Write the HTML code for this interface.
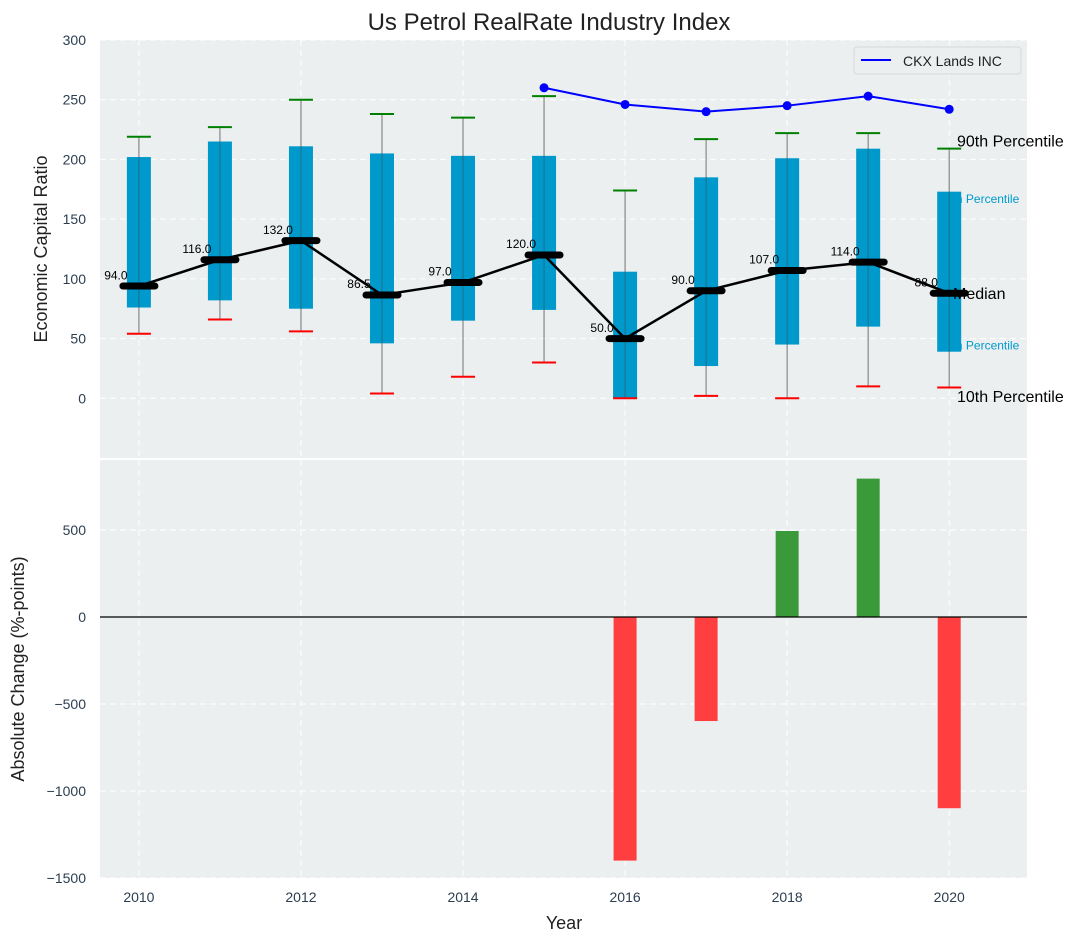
<!DOCTYPE html>
<html><head><meta charset="utf-8"><style>
body{margin:0;background:#fff;}
svg{display:block;font-family:"Liberation Sans","DejaVu Sans",sans-serif;}
</style></head><body>
<svg id="chart" width="1092" height="942" xmlns="http://www.w3.org/2000/svg"></svg>
<script>
const years=[2010,2011,2012,2013,2014,2015,2016,2017,2018,2019,2020];
const p90=[219,227,250,238,235,253,174,217,222,222,209];
const p75=[202,215,211,205,203,203,106,185,201,209,173];
const medians=[94,116,132,86.5,97,120,50,90,107,114,88];
const p25=[76,82,75,46,65,74,0,27,45,60,39];
const p10=[54,66,56,4,18,30,0,2,0,10,9];
const ckxYears=[2015,2016,2017,2018,2019,2020];
const ckxValues=[260,246,240,245,253,242];
const changeYears=[2016,2017,2018,2019,2020];
const changeValues=[-1400,-598,494,795,-1099];
const topTicks=[0,50,100,150,200,250,300];
const botTicks=[-1500,-1000,-500,0,500];
const xTicks=[2010,2012,2014,2016,2018,2020];

const NS="http://www.w3.org/2000/svg";
const svg=document.getElementById('chart');
function el(tag,attrs,parent,text){const e=document.createElementNS(NS,tag);for(const k in attrs)e.setAttribute(k,attrs[k]);if(text!==undefined)e.textContent=text;(parent||svg).appendChild(e);return e;}
const L=100,R=1027;
const x=v=>L+(v-2009.52)/(2020.96-2009.52)*(R-L);
const T1=40,B1=458,yt=v=>T1+(300-v)/(350)*(B1-T1);
const T2=460,B2=878,yb=v=>T2+(902-v)/(2402)*(B2-T2);
const tickColor="#2c3e50";

const title=el('text',{x:549,y:30,'text-anchor':'middle','font-size':24,fill:'#222'},svg,'Us Petrol RealRate Industry Index');



const g1=el('g',{});


const bg1=el('rect',{x:L,y:T1,width:R-L,height:B1-T1,fill:'#ebeff0'},g1);


topTicks.forEach(t=>{
  el('line',{x1:L,x2:R,y1:yt(t),y2:yt(t),stroke:'#fff','stroke-dasharray':'6,4','stroke-width':1},g1);
  const tl=el('text',{x:L-14,y:yt(t)+5,'text-anchor':'end','font-size':14,fill:tickColor},g1,String(t));
  
  
});
xTicks.forEach(t=>el('line',{x1:x(t),x2:x(t),y1:T1,y2:B1,stroke:'#fff','stroke-dasharray':'6,4'},g1));
const yl1=el('text',{x:47,y:(T1+B1)/2,'text-anchor':'middle','font-size':18,fill:'#222',transform:`rotate(-90 47 ${(T1+B1)/2})`},g1,'Economic Capital Ratio');



const last=years.length-1, xl=x(years[last]);
[['75th Percentile',p75[last]-6,'#0099cc',12,xl-10],['25th Percentile',p25[last]+5,'#0099cc',12,xl-10]].forEach(a=>{
  const t=el('text',{x:a[4],y:yt(a[1])+4,'font-size':a[3],fill:a[2]},g1,a[0]);
  
  
});

years.forEach((yr,i)=>{
  const cx=x(yr);
  const w=el('line',{x1:cx,x2:cx,y1:yt(p10[i]),y2:yt(p90[i]),stroke:'#888','stroke-width':1.2},g1);
  
  
  const b=el('rect',{x:cx-12,y:yt(p75[i]),width:24,height:yt(p25[i])-yt(p75[i]),fill:'#0099cc'},g1);
  
  
  el('line',{x1:cx,x2:cx,y1:yt(p75[i]),y2:yt(p25[i]),stroke:'#444','stroke-width':1,opacity:0.5},g1);
  const c1=el('line',{x1:cx-12,x2:cx+12,y1:yt(p90[i]),y2:yt(p90[i]),stroke:'green','stroke-width':2},g1);
  
  
  const c2=el('line',{x1:cx-12,x2:cx+12,y1:yt(p10[i]),y2:yt(p10[i]),stroke:'red','stroke-width':2},g1);
  
  
});
const mline=el('polyline',{points:years.map((yr,i)=>x(yr)+','+yt(medians[i])).join(' '),fill:'none',stroke:'#000','stroke-width':2.5},g1);


years.forEach((yr,i)=>{
  const cx=x(yr);
  const m=el('line',{x1:cx-16,x2:cx+16,y1:yt(medians[i]),y2:yt(medians[i]),stroke:'#000','stroke-width':7,'stroke-linecap':'round'},g1);
  
  
  const lbl=el('text',{x:cx-23,y:yt(medians[i]+9)+4,'text-anchor':'middle','font-size':12,fill:'#000'},g1,medians[i].toFixed(1));
  
  
});
const ck=el('polyline',{points:ckxYears.map((yr,i)=>x(yr)+','+yt(ckxValues[i])).join(' '),fill:'none',stroke:'blue','stroke-width':2},g1);


ckxYears.forEach((yr,i)=>{
  const p=el('circle',{cx:x(yr),cy:yt(ckxValues[i]),r:4.5,fill:'blue'},g1);
  
  
});
[['90th Percentile',p90[last]+7,957],['Median',medians[last],953],['10th Percentile',p10[last]-7,957]].forEach(a=>{
  const t=el('text',{x:a[2],y:yt(a[1])+6,'font-size':16,fill:'#000'},svg,a[0]);
  
  
});
const lg=el('g',{});


el('rect',{x:854,y:47,width:167,height:27,rx:3,fill:'#ebeff0',stroke:'#d5d8da'},lg);
el('line',{x1:861,x2:891,y1:60,y2:60,stroke:'blue','stroke-width':2},lg);
el('text',{x:903,y:66,'font-size':14,fill:'#222'},lg,'CKX Lands INC');

const g2=el('g',{});


const bg2=el('rect',{x:L,y:T2,width:R-L,height:B2-T2,fill:'#ebeff0'},g2);


botTicks.forEach(t=>{
  el('line',{x1:L,x2:R,y1:yb(t),y2:yb(t),stroke:'#fff','stroke-dasharray':'6,4'},g2);
  const tl=el('text',{x:L-14,y:yb(t)+5,'text-anchor':'end','font-size':14,fill:tickColor},g2,t<0?'\u2212'+Math.abs(t):String(t));
  
  
});
xTicks.forEach(t=>{
  el('line',{x1:x(t),x2:x(t),y1:T2,y2:B2,stroke:'#fff','stroke-dasharray':'6,4'},g2);
  const tl=el('text',{x:x(t),y:B2+24,'text-anchor':'middle','font-size':14,fill:tickColor},g2,String(t));
  
  
});
changeYears.forEach((yr,i)=>{
  const v=changeValues[i];
  const r=el('rect',{x:x(yr)-11.5,y:Math.min(yb(v),yb(0)),width:23,height:Math.abs(yb(v)-yb(0)),fill:v<0?'#ff3f3f':'#3a9a3a'},g2);
  
  
});
const zl=el('line',{x1:L,x2:R,y1:yb(0),y2:yb(0),stroke:'#000','stroke-width':1.2},g2);


const yl2=el('text',{x:24,y:(T2+B2)/2,'text-anchor':'middle','font-size':18,fill:'#222',transform:`rotate(-90 24 ${(T2+B2)/2})`},g2,'Absolute Change (%-points)');


const xl2=el('text',{x:564,y:929,'text-anchor':'middle','font-size':18,fill:'#222'},g2,'Year');


</script>
</body></html>
